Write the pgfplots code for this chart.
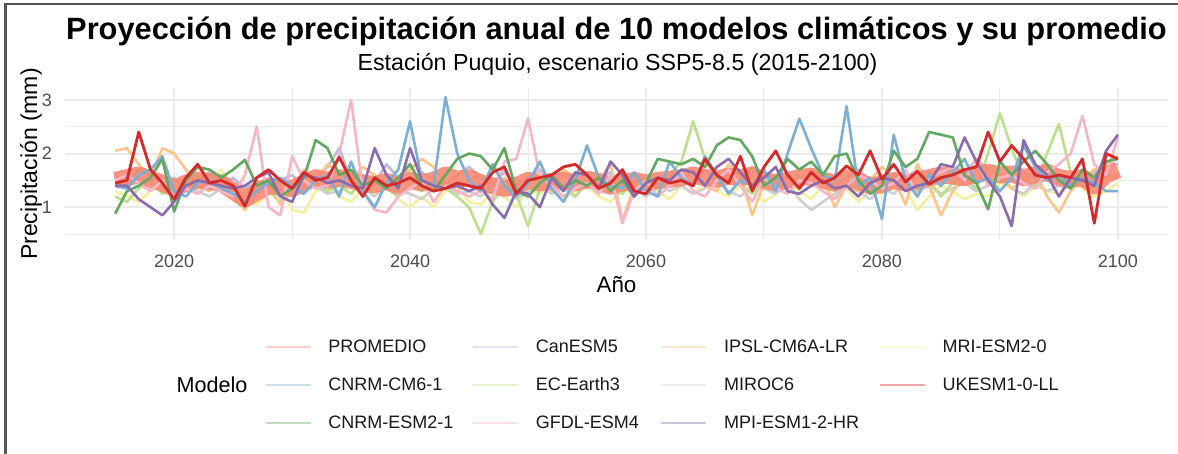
\documentclass[border=0pt]{standalone}
\usepackage{fontspec}
\setmainfont{Liberation Sans}
\usepackage{pgfplots}
\usepackage{pgfplotstable}
\pgfplotsset{compat=1.18}
\definecolor{cProm}{HTML}{F98670}
\definecolor{cCan}{HTML}{BEBADA}
\definecolor{cCM6}{HTML}{7BAFD4}
\definecolor{cESM2}{HTML}{63A860}
\definecolor{cEC}{HTML}{BCE08E}
\definecolor{cGFDL}{HTML}{F4B6C8}
\definecolor{cIPSL}{HTML}{FDC58A}
\definecolor{cMIROC}{HTML}{CFCFCF}
\definecolor{cMPI}{HTML}{8A6BAE}
\definecolor{cMRI}{HTML}{F5F0A0}
\definecolor{cUK}{HTML}{D42A2A}
\definecolor{gridc}{HTML}{EBEBEB}
\definecolor{tickc}{HTML}{4D4D4D}
\definecolor{framec}{HTML}{555555}

\pgfplotstableread{
year PROM Can CM6 ESM2 EC GFDL IPSL MIROC MPI MRI UK
2015 1.50 1.55 1.40 0.88 1.20 1.50 2.05 1.50 1.40 1.30 1.45
2016 1.55 1.45 1.35 1.30 1.10 1.60 2.10 1.40 1.40 1.20 1.50
2017 1.60 1.70 1.60 1.40 1.35 1.45 1.80 1.55 1.15 1.10 2.40
2018 1.52 1.60 1.70 1.55 1.50 1.30 1.55 1.45 1.00 1.30 1.70
2019 1.45 1.40 1.95 1.90 1.25 1.50 2.10 1.35 0.85 1.40 1.45
2020 1.35 1.55 1.30 0.92 1.40 1.20 2.00 1.25 1.10 1.20 1.15
2021 1.45 1.30 1.20 1.50 1.30 1.35 1.70 1.40 1.40 1.35 1.55
2022 1.50 1.50 1.45 1.75 1.55 1.25 1.40 1.30 1.50 1.25 1.80
2023 1.48 1.65 1.50 1.70 1.45 1.40 1.30 1.20 1.45 1.45 1.45
2024 1.45 1.40 1.35 1.55 1.60 1.30 1.50 1.35 1.40 1.70 1.50
2025 1.30 1.55 1.25 1.70 1.35 1.20 1.20 1.25 1.35 1.30 1.40
2026 1.15 1.35 1.10 1.88 1.20 1.60 0.95 1.10 1.40 1.15 1.02
2027 1.28 1.45 1.30 1.40 1.50 2.50 1.25 1.30 1.55 1.05 1.55
2028 1.40 1.25 1.45 1.50 1.30 1.00 1.40 1.45 1.65 1.25 1.70
2029 1.38 1.50 1.55 1.20 1.10 0.85 1.05 1.30 1.20 1.40 1.50
2030 1.35 1.60 1.40 1.35 1.40 1.95 1.30 1.20 1.10 0.95 1.35
2031 1.45 1.40 1.25 1.55 1.55 1.50 1.70 1.35 1.60 0.90 1.65
2032 1.55 1.55 1.50 2.25 1.45 1.35 1.50 1.40 1.55 1.30 1.50
2033 1.50 1.75 1.60 2.10 1.30 1.40 1.80 1.25 1.45 1.40 1.55
2034 1.55 2.10 1.20 1.60 1.40 2.00 1.65 1.30 1.50 1.20 1.93
2035 1.50 1.50 1.85 1.70 1.25 3.00 1.50 1.45 1.40 1.10 1.50
2036 1.45 1.60 1.30 1.40 1.50 1.30 1.75 1.35 1.35 1.35 1.20
2037 1.42 1.45 1.00 1.50 1.60 0.95 1.60 1.20 2.10 1.25 1.55
2038 1.48 1.80 1.45 1.35 1.35 0.90 1.40 1.40 1.60 1.50 1.40
2039 1.40 1.55 1.70 1.55 1.20 1.20 1.55 1.30 1.35 1.15 1.45
2040 1.50 1.45 2.60 1.80 1.45 1.35 1.70 1.25 2.10 1.00 1.55
2041 1.45 1.65 1.50 1.40 1.30 1.50 1.90 1.15 1.50 1.20 1.40
2042 1.50 1.50 1.40 1.30 1.55 1.10 1.75 1.35 1.40 1.00 1.30
2043 1.60 1.40 3.05 1.60 1.35 1.40 1.45 1.40 1.35 1.30 1.35
2044 1.52 1.60 2.00 1.90 1.20 1.30 1.30 1.25 1.40 1.40 1.45
2045 1.55 1.75 1.50 2.00 1.00 1.20 1.50 1.30 1.30 1.10 1.40
2046 1.45 1.55 1.30 1.95 0.50 1.30 1.60 1.20 1.40 1.05 1.35
2047 1.40 1.45 1.80 1.70 1.10 1.15 1.40 1.45 1.05 1.30 1.65
2048 1.35 1.65 1.40 2.10 1.40 1.85 1.55 1.35 0.80 1.20 1.75
2049 1.40 1.40 1.20 1.30 1.25 1.90 1.20 1.15 1.30 1.00 1.25
2050 1.50 1.55 1.45 1.20 0.65 2.65 1.45 1.30 1.25 1.35 1.50
2051 1.45 1.70 1.85 1.45 1.35 1.60 1.60 1.40 1.00 1.25 1.55
2052 1.48 1.45 1.35 1.60 1.50 1.40 1.30 1.25 1.55 1.45 1.60
2053 1.50 1.60 1.10 1.35 1.40 1.20 1.70 1.35 1.30 1.15 1.75
2054 1.45 1.50 1.50 1.50 1.20 1.35 1.55 1.20 1.65 1.30 1.80
2055 1.52 1.35 2.15 1.40 1.45 1.45 1.35 1.45 1.60 1.40 1.60
2056 1.48 1.55 1.55 1.55 1.60 1.25 1.50 1.30 1.35 1.20 1.35
2057 1.40 1.65 1.40 1.30 1.30 1.60 1.80 1.25 1.85 1.10 1.45
2058 1.45 1.45 1.35 1.50 1.25 0.70 0.75 1.40 1.60 1.35 1.70
2059 1.50 1.60 1.65 1.20 1.50 1.30 1.40 1.35 1.20 1.25 1.30
2060 1.45 1.50 1.30 1.45 1.40 1.50 1.55 1.20 1.45 1.50 1.25
2061 1.50 1.40 1.20 1.90 1.35 1.20 1.35 1.45 1.55 1.30 1.55
2062 1.52 1.65 1.85 1.85 1.60 1.40 1.65 1.30 1.50 1.15 1.45
2063 1.55 1.55 1.55 1.80 1.85 1.65 1.50 1.40 1.70 1.40 1.50
2064 1.60 1.45 1.40 1.90 2.60 1.30 1.70 1.25 1.65 1.25 1.40
2065 1.55 1.70 1.95 1.75 1.90 1.20 1.40 1.35 1.40 1.45 1.90
2066 1.52 1.55 1.60 2.15 1.45 1.50 1.30 1.50 1.75 1.30 1.60
2067 1.58 1.60 1.25 2.30 1.55 1.70 1.80 1.30 1.90 1.20 1.45
2068 1.55 1.45 1.50 2.25 1.40 1.40 1.60 1.20 1.65 1.40 1.95
2069 1.60 1.75 1.40 1.95 1.25 1.10 0.85 1.40 1.40 1.35 1.30
2070 1.50 1.50 1.70 1.40 1.50 1.55 1.45 1.35 1.55 1.10 1.75
2071 1.45 1.60 1.30 1.55 1.45 1.35 1.60 1.25 1.75 1.25 2.05
2072 1.50 1.55 2.00 1.90 1.35 1.25 1.50 1.45 1.30 1.45 1.60
2073 1.55 1.45 2.65 1.70 1.60 1.50 1.35 1.15 1.25 1.30 1.35
2074 1.58 1.65 2.10 1.85 1.40 1.45 1.70 0.95 1.40 1.15 1.65
2075 1.50 1.50 1.60 1.60 1.50 1.30 1.55 1.10 1.50 1.40 1.45
2076 1.45 1.40 1.50 1.95 1.30 1.15 1.00 1.25 1.35 1.20 1.55
2077 1.55 1.55 2.88 2.00 1.45 1.40 1.40 1.40 1.40 1.35 1.77
2078 1.48 1.70 1.40 1.50 1.55 1.60 1.30 1.30 1.20 1.10 1.60
2079 1.40 1.50 1.55 1.25 1.40 1.50 1.50 1.15 1.45 1.30 2.05
2080 1.42 1.60 0.78 1.40 1.35 1.35 1.75 1.35 1.55 1.25 1.52
2081 1.50 1.45 2.35 2.05 1.60 1.45 1.55 1.25 1.50 1.45 1.80
2082 1.45 1.55 1.50 1.75 1.45 1.70 1.05 1.45 1.30 1.35 1.47
2083 1.48 1.70 1.20 1.90 1.30 1.20 1.80 1.30 1.40 0.95 1.67
2084 1.55 1.65 1.60 2.40 1.50 1.55 1.40 1.40 1.45 1.20 1.43
2085 1.60 1.50 1.40 2.35 1.20 1.65 0.85 1.25 1.80 1.40 1.55
2086 1.58 1.75 1.65 2.30 1.45 1.75 1.30 1.35 1.75 1.30 1.60
2087 1.55 1.60 1.90 1.60 1.55 1.50 1.55 1.45 2.30 1.15 1.70
2088 1.62 1.90 1.45 1.45 1.35 1.90 1.45 1.30 1.85 1.25 1.75
2089 1.65 1.70 1.55 0.96 2.00 1.40 1.70 1.40 1.50 1.20 2.40
2090 1.60 1.60 1.30 1.85 2.75 1.55 1.60 1.55 1.20 1.45 1.85
2091 1.62 1.50 1.55 1.60 2.10 1.60 1.35 1.35 0.65 1.35 2.15
2092 1.55 1.65 2.15 1.85 1.50 1.45 1.50 1.25 2.25 1.20 1.90
2093 1.60 1.55 1.75 2.05 1.40 1.35 1.65 1.45 1.80 1.40 1.60
2094 1.65 1.70 1.50 1.80 2.00 1.65 1.20 1.30 1.60 1.30 1.55
2095 1.55 1.60 1.60 1.50 2.55 1.80 0.90 1.40 1.20 1.25 1.60
2096 1.52 1.45 1.40 1.35 1.65 2.00 1.30 1.35 1.55 1.50 1.55
2097 1.55 1.55 1.55 1.70 1.40 2.70 1.55 1.50 1.50 1.35 1.90
2098 1.40 1.65 1.45 1.55 1.50 1.80 1.70 1.45 1.40 1.20 0.70
2099 1.60 1.75 1.30 1.85 1.60 1.60 1.80 1.55 2.05 1.30 2.00
2100 1.70 1.80 1.30 1.90 1.55 2.30 1.95 1.60 2.35 1.45 1.90
}\datatable

\begin{document}
\begin{tikzpicture}
\useasboundingbox (0,0) rectangle (589pt,227pt);
\fill[white] (0,0) rectangle (589pt,227pt);
\begin{axis}[
  at={(32.5pt,107pt)}, anchor=south west,
  scale only axis, width=551.5pt, height=76pt,
  xmin=2010.75, xmax=2104.25, ymin=0.39, ymax=3.22,
  axis line style={draw=none},
  tick style={draw=none},
  major tick length=0pt, minor tick length=0pt,
  xtick={2020,2040,2060,2080,2100},
  minor xtick={2030,2050,2070,2090},
  ytick={1,2,3},
  minor ytick={0.5,1.5,2.5},
  grid=both,
  major grid style={color=gridc, line width=1pt},
  minor grid style={color=gridc, line width=0.5pt},
  /pgf/number format/assume math mode=true,
  /pgf/number format/1000 sep={},
  xticklabel style={font=\fontsize{9}{10}\selectfont, color=tickc, anchor=base, yshift=-14pt},
  yticklabel style={font=\fontsize{9}{10}\selectfont, color=tickc, anchor=east, xshift=-3pt},
  legend columns=4,
  legend image code/.code={\draw[#1, line width=0.7pt, draw opacity=0.4] (0pt,0pt) -- (22.5pt,0pt);},
  legend style={
    at={(axis description cs:0.18132,-0.64474)}, anchor=north west,
    draw=none, fill=none, inner sep=0pt, outer sep=0pt,
    font=\fontsize{9}{10.8}\selectfont, text=black!90,
    column sep=0pt, row sep=10pt,
    nodes={inner sep=0pt, text height=7pt, text depth=2pt},
    /tikz/every odd column/.append style={column sep=8.5pt},
    /tikz/column 2/.style={text width=72pt, align=left},
    /tikz/column 4/.style={text width=62.5pt, align=left},
    /tikz/column 6/.style={text width=77.5pt, align=left},
    /tikz/column 8/.style={text width=70pt, align=left},
  },
  legend cell align=left,
  clip=false,
]
\addlegendimage{cProm}\addlegendentry{PROMEDIO}
\addlegendimage{cCan}\addlegendentry{CanESM5}
\addlegendimage{cIPSL}\addlegendentry{IPSL-CM6A-LR}
\addlegendimage{cMRI}\addlegendentry{MRI-ESM2-0}
\addlegendimage{cCM6}\addlegendentry{CNRM-CM6-1}
\addlegendimage{cEC}\addlegendentry{EC-Earth3}
\addlegendimage{cMIROC}\addlegendentry{MIROC6}
\addlegendimage{cUK}\addlegendentry{UKESM1-0-LL}
\addlegendimage{cESM2}\addlegendentry{CNRM-ESM2-1}
\addlegendimage{cGFDL}\addlegendentry{GFDL-ESM4}
\addlegendimage{cMPI}\addlegendentry{MPI-ESM1-2-HR}

\pgfplotsset{every axis plot/.append style={no markers, line join=round, forget plot}}
\addplot[cMRI, line width=1.3pt] table[x=year,y=MRI]{\datatable};
\addplot[cMIROC, line width=1.3pt] table[x=year,y=MIROC]{\datatable};
\addplot[cCan, line width=1.3pt] table[x=year,y=Can]{\datatable};
\addplot[cEC, line width=1.3pt] table[x=year,y=EC]{\datatable};
\addplot[cIPSL, line width=1.3pt] table[x=year,y=IPSL]{\datatable};
\addplot[cProm, line width=8.5pt, opacity=0.88] table[x=year,y=PROM]{\datatable};
\addplot[cGFDL, line width=1.3pt] table[x=year,y=GFDL]{\datatable};
\addplot[cCM6, line width=1.3pt] table[x=year,y=CM6]{\datatable};
\addplot[cESM2, line width=1.3pt] table[x=year,y=ESM2]{\datatable};
\addplot[cMPI, line width=1.3pt] table[x=year,y=MPI]{\datatable};
\addplot[cUK, line width=1.4pt] table[x=year,y=UK]{\datatable};
\end{axis}
\draw[line width=1.2pt, color=framec] (2.7pt,0) -- (2.7pt,225pt) -- (589pt,225pt);
\node[anchor=base, font=\bfseries\fontsize{15.4}{18}\selectfont] at (308.25pt,207pt) {Proyección de precipitación anual de 10 modelos climáticos y su promedio};
\node[anchor=base, font=\fontsize{11.6}{14}\selectfont] at (308.75pt,191.5pt) {Estación Puquio, escenario SSP5-8.5 (2015-2100)};
\node[anchor=base, font=\fontsize{11.2}{13}\selectfont] at (308.25pt,80.5pt) {Año};
\node[rotate=90, anchor=base, font=\fontsize{11.5}{13}\selectfont] at (18.5pt,145pt) {Precipitación (mm)};
\node[font=\fontsize{10.8}{13}\selectfont] at (106pt,34.5pt) {Modelo};
\end{tikzpicture}
\end{document}
